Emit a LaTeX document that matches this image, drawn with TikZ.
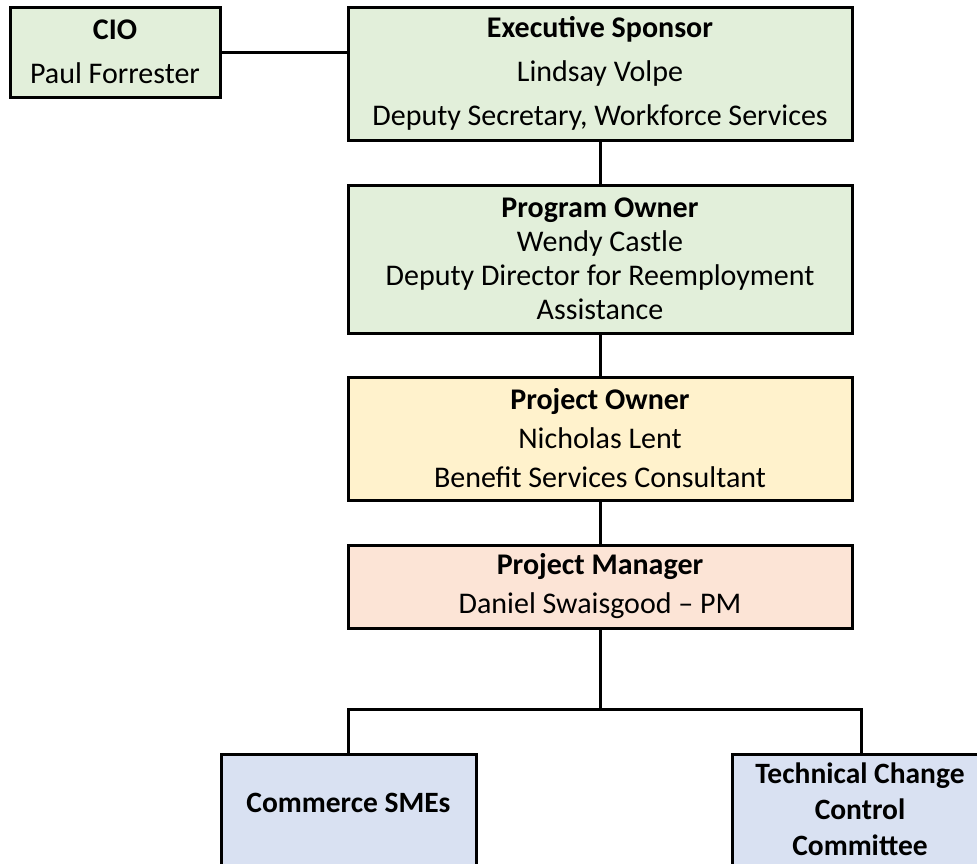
\documentclass[tikz,border=0pt]{standalone}
\usepackage{fontspec}
\setmainfont{Carlito}
\definecolor{boxgreen}{HTML}{E2EFDA}
\definecolor{boxyellow}{HTML}{FFF2CC}
\definecolor{boxsalmon}{HTML}{FCE4D6}
\definecolor{boxblue}{HTML}{D9E1F2}
\begin{document}
\begin{tikzpicture}[x=1pt,y=-1pt,
  box/.style={draw=black, line width=3pt, rectangle, inner sep=0pt, align=center},
  conn/.style={draw=black, line width=3pt},
  wide/.style={font=\fontsize{30}{44}\selectfont},
  mid/.style={font=\fontsize{30}{39}\selectfont},
  tight/.style={font=\fontsize{30}{34}\selectfont},
  lowtxt/.style={align=center, inner sep=0pt, font=\fontsize{29.5}{36}\selectfont\bfseries}]
\useasboundingbox (0,0) rectangle (977,863);
\node[box, wide, fill=boxgreen, minimum width=210pt, minimum height=90pt] (cio) at (115,52)
  {\textbf{CIO}\\Paul Forrester};
\node[box, wide, fill=boxgreen, minimum width=504pt, minimum height=133pt] (exec) at (600,73.5)
  {\textbf{Executive Sponsor}\\Lindsay Volpe\\Deputy Secretary, Workforce Services};
\node[box, tight, fill=boxgreen, minimum width=504pt, minimum height=148pt] (prog) at (600,259)
  {\textbf{Program Owner}\\Wendy Castle\\Deputy Director for Reemployment\\Assistance};
\node[box, mid, fill=boxyellow, minimum width=504pt, minimum height=123pt] (powner) at (600,438.5)
  {\textbf{Project Owner}\\Nicholas Lent\\Benefit Services Consultant};
\node[box, mid, fill=boxsalmon, minimum width=504pt, minimum height=83pt] (pm) at (600,586.5)
  {\textbf{Project Manager}\\Daniel Swaisgood -- PM};
\node[box, fill=boxblue, minimum width=255pt, minimum height=126pt] (smes) at (348.5,817) {};
\node[box, fill=boxblue, minimum width=258pt, minimum height=126pt] (tccc) at (861,817) {};
\node[lowtxt] (smest) at (348.5,803) {Commerce SMEs};
\node[lowtxt] (tccct) at (860,809) {Technical Change\\Control\\Committee};
\draw[conn] (cio.east) -- (cio.east -| exec.west);
\draw[conn] (exec.south) -- (prog.north);
\draw[conn] (prog.south) -- (powner.north);
\draw[conn] (powner.south) -- (pm.north);
\coordinate (split) at (600,709);
\draw[conn] (pm.south) -- (split);
\draw[conn] (smes.north) |- (split) -| (tccc.north);
\end{tikzpicture}
\end{document}
